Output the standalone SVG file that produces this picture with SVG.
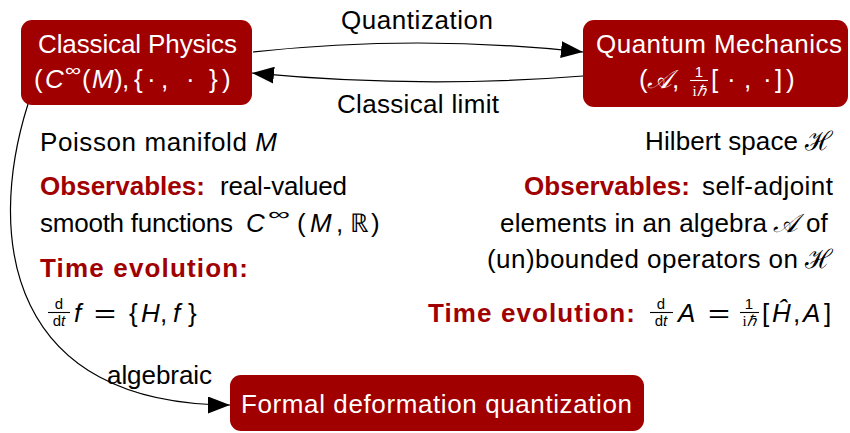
<svg xmlns="http://www.w3.org/2000/svg" width="850" height="433" viewBox="0 0 850 433">
<style>
  .box { fill: #A00000; }
  .t { font-family: "Liberation Sans", Arial, sans-serif; font-size: 26px; fill: #000; }
  .w { fill: #fff; }
  .r { fill: #A00000; font-weight: bold; }
  .i { font-style: italic; }
  .s { font-size: 15px; }
  .sup { font-size: 17px; }
  .cal { font-family: "DejaVu Serif", "Liberation Serif", "Noto Sans", serif; font-style: italic; }
  .rm { font-family: "Liberation Serif", serif; }
  .edge { fill: none; stroke: #000; stroke-width: 1.2; }
  .bar { stroke-width: 1.1; }
</style>
<defs>
  <marker id="arr" viewBox="0 0 22 17" refX="22" refY="8.5" markerWidth="22" markerHeight="17" markerUnits="userSpaceOnUse" orient="auto">
    <path d="M0,0 L22,8.5 L0,17 z" fill="#000"/>
  </marker>
</defs>

<g id="connectors">
  <path class="edge" d="M253,52 Q418,34 583,52" marker-end="url(#arr)"/>
  <path class="edge" d="M583,76 Q418,89 252,73" marker-end="url(#arr)"/>
  <path class="edge" d="M28,104 C-15,240 10,405 230,405" marker-end="url(#arr)"/>
  <text class="t" x="341" y="29" textLength="152">Quantization</text>
  <text class="t" x="337" y="113" textLength="162">Classical limit</text>
  <text class="t" x="107" y="384" textLength="105">algebraic</text>
</g>

<g id="classical">
  <rect class="box" x="21" y="20" width="231" height="85" rx="11"/>
  <text class="t w" x="38" y="53" textLength="199">Classical Physics</text>
  <text class="t w" x="34" y="88">(</text>
  <text class="t w i" x="45" y="88">C</text>
  <text class="t w sup" x="65" y="76" textLength="16" lengthAdjust="spacingAndGlyphs">∞</text>
  <text class="t w" x="82" y="88">(</text>
  <text class="t w i" x="92" y="88">M</text>
  <text class="t w" x="114" y="88">)</text>
  <text class="t w" x="122" y="88">,</text>
  <text class="t w" x="134" y="88">{</text>
  <text class="t w" x="147" y="88">·</text>
  <text class="t w" x="161" y="88">,</text>
  <text class="t w" x="186" y="88">·</text>
  <text class="t w" x="209" y="88">}</text>
  <text class="t w" x="222" y="88">)</text>
</g>

<g id="quantum">
  <rect class="box" x="583" y="20" width="265" height="87" rx="11"/>
  <text class="t w" x="596" y="53" textLength="246">Quantum Mechanics</text>
  <text class="t w" x="639" y="88">(</text>
  <text class="t w cal" x="647" y="88">𝒜</text>
  <text class="t w" x="672" y="88">,</text>
  <text class="t w s" x="699" y="77" text-anchor="middle">1</text>
  <line class="bar" x1="690" y1="80.5" x2="708" y2="80.5" stroke="#fff"/>
  <text class="t w s" x="699" y="96" text-anchor="middle"><tspan class="rm">i</tspan><tspan class="i">ℏ</tspan></text>
  <text class="t w" x="711" y="88">[</text>
  <text class="t w" x="727" y="88">·</text>
  <text class="t w" x="744" y="88">,</text>
  <text class="t w" x="763" y="88">·</text>
  <text class="t w" x="775" y="88">]</text>
  <text class="t w" x="786" y="88">)</text>
</g>

<g id="formal">
  <rect class="box" x="230" y="375" width="414" height="56" rx="11"/>
  <text class="t w" x="241" y="413" textLength="391">Formal deformation quantization</text>
</g>

<g id="classical-notes">
  <text class="t" x="40" y="151" textLength="237">Poisson manifold <tspan class="i">M</tspan></text>
  <text class="t r" x="40" y="195" textLength="165">Observables:</text>
  <text class="t" x="220" y="195" textLength="127">real-valued</text>
  <text class="t" x="40" y="232" textLength="193">smooth functions</text>
  <text class="t i" x="246" y="232">C</text>
  <text class="t sup" x="268" y="220" textLength="22" lengthAdjust="spacingAndGlyphs">∞</text>
  <text class="t" x="297" y="232">(</text>
  <text class="t i" x="310" y="232">M</text>
  <text class="t" x="336" y="232">,</text>
  <text class="t" x="350" y="232">ℝ</text>
  <text class="t" x="371" y="232">)</text>
  <text class="t r" x="40" y="277" textLength="208">Time evolution:</text>
  <text class="t s" x="59" y="309" text-anchor="middle">d</text>
  <line class="bar" x1="48" y1="312.5" x2="70" y2="312.5" stroke="#000"/>
  <text class="t s" x="59" y="326" text-anchor="middle">d<tspan class="i">t</tspan></text>
  <text class="t i" x="74" y="322">f</text>
  <text class="t" x="94" y="322" textLength="22" lengthAdjust="spacingAndGlyphs">=</text>
  <text class="t" x="129" y="322">{</text>
  <text class="t i" x="141" y="322">H</text>
  <text class="t" x="160" y="322">,</text>
  <text class="t i" x="173" y="322">f</text>
  <text class="t" x="188" y="322">}</text>
</g>

<g id="quantum-notes">
  <text class="t" x="645" y="150" textLength="153">Hilbert space</text>
  <text class="t cal" x="805" y="150">ℋ</text>
  <text class="t r" x="524" y="195" textLength="166">Observables:</text>
  <text class="t" x="702" y="195" textLength="131">self-adjoint</text>
  <text class="t" x="500" y="232" textLength="267">elements in an algebra</text>
  <text class="t cal" x="773" y="232">𝒜</text>
  <text class="t" x="806" y="232">of</text>
  <text class="t" x="487" y="268" textLength="311">(un)bounded operators on</text>
  <text class="t cal" x="805" y="268">ℋ</text>
  <text class="t r" x="428" y="322" textLength="207">Time evolution:</text>
  <text class="t s" x="661" y="309" text-anchor="middle">d</text>
  <line class="bar" x1="650" y1="312.5" x2="673" y2="312.5" stroke="#000"/>
  <text class="t s" x="661" y="326" text-anchor="middle">d<tspan class="i">t</tspan></text>
  <text class="t i" x="678" y="322">A</text>
  <text class="t" x="708" y="322" textLength="22" lengthAdjust="spacingAndGlyphs">=</text>
  <text class="t s" x="749" y="309" text-anchor="middle">1</text>
  <line class="bar" x1="740" y1="312.5" x2="759" y2="312.5" stroke="#000"/>
  <text class="t s" x="749" y="326" text-anchor="middle"><tspan class="rm">i</tspan><tspan class="i">ℏ</tspan></text>
  <text class="t" x="762" y="322">[</text>
  <text class="t i" x="772" y="322">Ĥ</text>
  <text class="t" x="793" y="322">,</text>
  <text class="t i" x="803" y="322">A</text>
  <text class="t" x="824" y="322">]</text>
</g>
</svg>
